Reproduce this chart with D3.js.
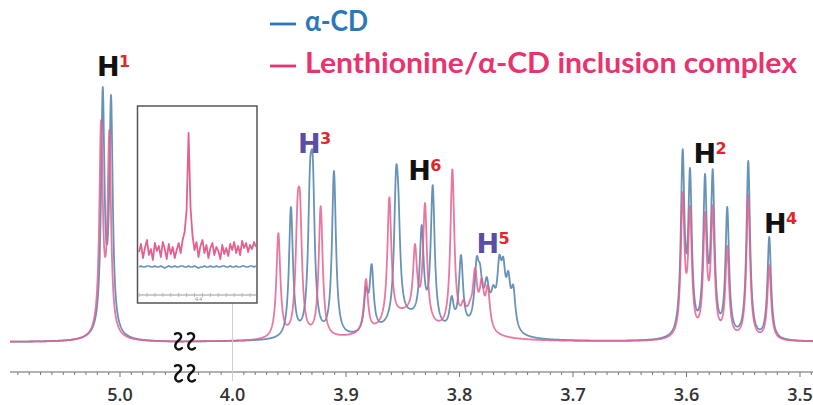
<!DOCTYPE html>
<html><head><meta charset="utf-8">
<script src="https://cdn.jsdelivr.net/npm/d3@7"></script>
<style>html,body{margin:0;padding:0;background:#fff;}svg{display:block;}</style>
</head><body>
<svg id="c" width="813" height="405"></svg>
<script>
// ---------- DATA ----------
// axis tick labels (ppm)
const leftTickLabels = [5.0];
const rightTickLabels = [4.0, 3.9, 3.8, 3.7, 3.6, 3.5];

// peak lists: [ppm, apparent height, half-width (ppm)]
const bluePeaks = [
  [5.0152, 255, 0.0018], [5.0079, 247, 0.0018],
  [3.9485, 135, 0.0021], [3.9317, 179, 0.0021], [3.9293, 186, 0.0021], [3.9106, 171, 0.0021],
  [3.8824, 55, 0.0021], [3.8774, 78, 0.0021], [3.8559, 174, 0.0021], [3.8539, 154, 0.0021],
  [3.8333, 117, 0.0021], [3.8236, 157, 0.0021],
  [3.8069, 46, 0.0022], [3.7987, 87, 0.0022], [3.7849, 85, 0.0022], [3.7819, 78, 0.0022],
  [3.7760, 65, 0.0022], [3.7702, 57, 0.0022], [3.7649, 87, 0.0022], [3.7614, 85, 0.0022],
  [3.7570, 71, 0.0022], [3.7526, 57, 0.0022],
  [3.6034, 193, 0.0019], [3.5969, 174, 0.0019], [3.5837, 168, 0.0019], [3.5769, 173, 0.0019],
  [3.5641, 135, 0.0019], [3.5456, 181, 0.0019], [3.5271, 105, 0.0019]
];
const pinkPeaks = [
  [5.0167, 222, 0.0018], [5.0094, 212, 0.0018],
  [3.9596, 109, 0.0021], [3.9427, 145, 0.0021], [3.9405, 148, 0.0021], [3.9223, 136, 0.0021],
  [3.8824, 63, 0.0021], [3.8618, 145, 0.0021], [3.8392, 98, 0.0021], [3.8304, 139, 0.0021],
  [3.8063, 173, 0.0021],
  [3.7966, 42, 0.0022], [3.7907, 42, 0.0022], [3.7863, 74, 0.0022], [3.7804, 64, 0.0022],
  [3.7751, 57, 0.0022],
  [3.6034, 150, 0.0019], [3.5969, 136, 0.0019], [3.5837, 130, 0.0019], [3.5769, 137, 0.0019],
  [3.5641, 96, 0.0019], [3.5456, 147, 0.0019], [3.5271, 77, 0.0019]
];
// broad underlying humps: [ppm, height, half-width (ppm)]
const blueBase = [[5.012, 7, 0.010], [3.845, 20, 0.022], [3.775, 20, 0.012]];
const pinkBase = [[5.013, 7, 0.010], [3.848, 25, 0.022], [3.790, 16, 0.012]];

// inset traces (sampled values across the inset window)
const insetPink = [18,26,12,22,30,15,21,10,27,19,24,13,28,21,11,26,16,23,12,20,27,17,30,38,
  60,137,62,34,20,28,13,24,30,17,25,12,22,27,15,23,19,11,25,16,22,14,26,20,28,17,24,15,29,22,27,18,25,21,28,23];
const insetBlue = [3,4,3,3,4,4,3,3,4,3,3,4,3,2,3,4,3,3,4,3,3,4,4,3,3,4,3,3,4,3,2,3,3,4,3,3,4,3,3,4,
  3,3,4,4,3,3,4,3,3,4,3,3,4,4,3,3,4,4,3,4];
const insetTickLabel = "4.4";

// legend & labels
const seriesNames = ["α-CD", "Lenthionine/α-CD inclusion complex"];
const peakLabels = [
  {n: "1", ppm: 5.0115, seg: "L", h: 266, purple: false},
  {n: "3", ppm: 3.9335, seg: "R", h: 189, purple: true},
  {n: "6", ppm: 3.8363, seg: "R", h: 162, purple: false},
  {n: "5", ppm: 3.7762, seg: "R", h: 89, purple: true},
  {n: "2", ppm: 3.5851, seg: "R", h: 179, purple: false},
  {n: "4", ppm: 3.5228, seg: "R", h: 109, purple: false}
];

// ---------- RENDER ----------
const svg = d3.select("#c");
const xL = d3.scaleLinear().domain([5.0, 4.9]).range([120, 233.5]);
const xR = d3.scaleLinear().domain([4.0, 3.9]).range([232.5, 346]);
const y = d3.scaleLinear().domain([0, 300]).range([342, 42]);

const lor = (p, h, x) => h * p[2] * p[2] / ((x - p[0]) * (x - p[0]) + p[2] * p[2]);
function fit(peaks, base) {
  let a = peaks.map(p => p[1]);
  for (let it = 0; it < 80; it++) {
    const n = peaks.map((p, i) => {
      let s = 0;
      peaks.forEach((q, j) => { if (j !== i) s += lor(q, a[j], p[0]); });
      base.forEach(b => s += lor(b, b[1], p[0]));
      return Math.max(0, 0.5 * a[i] + 0.5 * (p[1] - s));
    });
    a = n;
  }
  return a;
}
function spec(peaks, base, amps, ppm) {
  let s = 0;
  peaks.forEach((p, i) => s += lor(p, amps[i], ppm));
  base.forEach(b => s += lor(b, b[1], ppm));
  return s;
}
const series = [
  {peaks: bluePeaks, base: blueBase, color: "#6893b8", op: 1},
  {peaks: pinkPeaks, base: pinkBase, color: "#e4608f", op: 0.85}
];
series.forEach(s => {
  const amps = fit(s.peaks, s.base);
  [[xL, 10, 184], [xR, 184, 813]].forEach(([sc, a, b]) => {
    const pts = d3.range(a, b + 0.001, 0.25).map(px => {
      const ppm = sc.invert(px);
      return {ppm, v: spec(s.peaks, s.base, amps, ppm)};
    });
    svg.append("path").datum(pts)
      .attr("d", d3.line().x(d => sc(d.ppm)).y(d => y(d.v)))
      .attr("fill", "none").attr("stroke", s.color).attr("stroke-width", 1.8)
      .attr("stroke-opacity", s.op).attr("stroke-linejoin", "round");
  });
});

// x axis
const axY = 372;
svg.append("line").attr("x1", 10).attr("x2", 813).attr("y1", axY).attr("y2", axY)
  .attr("stroke", "#666").attr("stroke-width", 1.2);
function ticks(sc, lo, hi) {
  const a = Math.min(sc.invert(lo), sc.invert(hi)), b = Math.max(sc.invert(lo), sc.invert(hi));
  const out = [];
  for (let k = Math.ceil(a * 100 - 1e-6); k <= Math.floor(b * 100 + 1e-6); k++) out.push(k / 100);
  return out;
}
[[xL, 12, 176], [xR, 195, 812]].forEach(([sc, lo, hi]) => {
  ticks(sc, lo, hi).forEach(t => {
    const major = Math.abs(t * 10 - Math.round(t * 10)) < 1e-6;
    svg.append("line").attr("x1", sc(t)).attr("x2", sc(t)).attr("y1", axY).attr("y2", axY + (major ? 5 : 3))
      .attr("stroke", "#777").attr("stroke-width", 1);
  });
});
leftTickLabels.forEach(t => svg.append("text").attr("x", xL(t)).attr("y", 401).attr("text-anchor", "middle")
  .attr("font-family", "Open Sans").attr("font-size", 18).attr("font-weight", 600).attr("fill", "#333").text(t.toFixed(1)));
rightTickLabels.forEach(t => svg.append("text").attr("x", xR(t)).attr("y", 401).attr("text-anchor", "middle")
  .attr("font-family", "Open Sans").attr("font-size", 18).attr("font-weight", 600).attr("fill", "#333").text(t.toFixed(1)));

// grey guide line at 4.0
svg.append("line").attr("x1", xR(4.0)).attr("x2", xR(4.0)).attr("y1", 303).attr("y2", 381)
  .attr("stroke", "#cfcfcf").attr("stroke-width", 1);

// break marks
function squiggle(cx, cy) {
  svg.append("path").attr("transform", `translate(${cx},${cy})`)
    .attr("d", "M-3,-7 C1,-10 6,-5 1,-1 C-3,2 -4,6 -1,8 C1,9 3,8 4,7")
    .attr("fill", "none").attr("stroke", "#111").attr("stroke-width", 2.4).attr("stroke-linecap", "round");
}
[178, 191].forEach(cx => { squiggle(cx, 341); squiggle(cx, 373); });

// inset
const ix = d3.scaleLinear().domain([0, insetPink.length - 1]).range([139, 256]);
const iy = d3.scaleLinear().domain([0, 140]).range([270, 130]);
svg.append("rect").attr("x", 137.5).attr("y", 106).attr("width", 119.5).attr("height", 197)
  .attr("fill", "#fff").attr("stroke", "#555").attr("stroke-width", 1.5);
svg.append("path").datum(insetBlue).attr("d", d3.line().x((d, i) => ix(i)).y(d => iy(d)))
  .attr("fill", "none").attr("stroke", "#6893b8").attr("stroke-width", 1.7);
svg.append("path").datum(insetPink).attr("d", d3.line().x((d, i) => ix(i)).y(d => iy(d)))
  .attr("fill", "none").attr("stroke", "#e4608f").attr("stroke-width", 1.8).attr("stroke-linejoin", "round");
svg.append("line").attr("x1", 139).attr("x2", 256).attr("y1", 295).attr("y2", 295)
  .attr("stroke", "#999").attr("stroke-width", 1);
d3.range(0, insetPink.length, 4).forEach(i => {
  svg.append("line").attr("x1", ix(i)).attr("x2", ix(i)).attr("y1", 293).attr("y2", 297)
    .attr("stroke", "#aaa").attr("stroke-width", 0.8);
});
svg.append("text").attr("x", ix(30)).attr("y", 301).attr("text-anchor", "middle")
  .attr("font-family", "Open Sans").attr("font-size", 5).attr("fill", "#888").text(insetTickLabel);

// peak labels
peakLabels.forEach(l => {
  const sc = l.seg === "L" ? xL : xR;
  const bx = sc(l.ppm) - 10, by = y(l.h);
  svg.append("text").attr("x", bx).attr("y", by).attr("font-family", "DejaVu Sans")
    .attr("font-weight", "bold").attr("font-size", 27).attr("fill", l.purple ? "#5a4ea6" : "#111").text("H");
  svg.append("text").attr("x", bx + 22).attr("y", by - 9).attr("font-family", "DejaVu Sans")
    .attr("font-weight", "bold").attr("font-size", 16).attr("fill", "#e3262b").text(l.n);
});

// legend
const legColors = ["#2b78b8", "#e8336f"];
const legY = [31, 73];
const legW = [63, 492];
seriesNames.forEach((nm, i) => {
  svg.append("line").attr("x1", 270).attr("x2", 296).attr("y1", legY[i] - 7).attr("y2", legY[i] - 7)
    .attr("stroke", legColors[i]).attr("stroke-width", 2.8);
  svg.append("text").attr("x", 305).attr("y", legY[i]).attr("font-family", "Lato").attr("font-weight", "bold")
    .attr("font-size", 28).attr("fill", legColors[i]).attr("textLength", legW[i])
    .attr("lengthAdjust", "spacingAndGlyphs").text(nm);
});
</script>
</body></html>
